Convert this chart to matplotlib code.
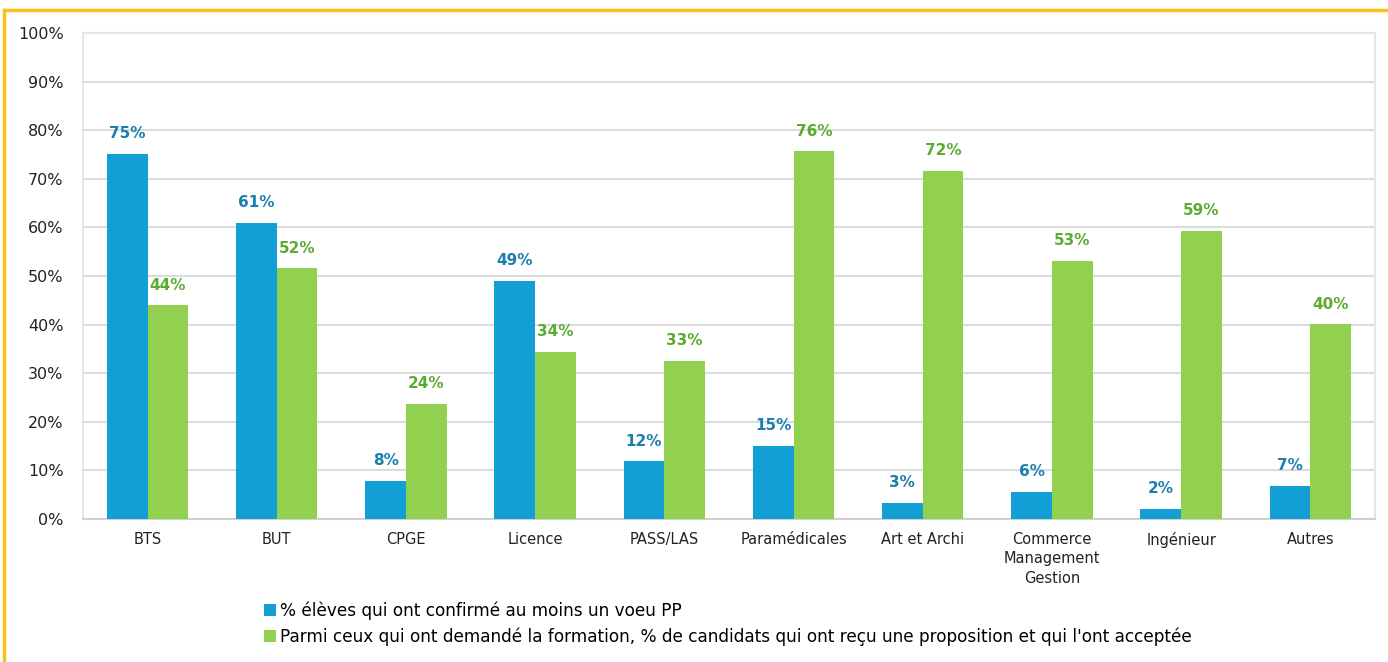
import matplotlib.pyplot as plt
import numpy as np

plt.rcParams['font.family'] = ['DejaVu Sans']

categories = ["BTS", "BUT", "CPGE", "Licence", "PASS/LAS", "Paramédicales",
              "Art et Archi", "Commerce\nManagement\nGestion", "Ingénieur", "Autres"]
confirmed = [75.1, 60.9, 7.8, 49.0, 11.9, 15.0, 3.3, 5.6, 2.1, 6.8]
accepted = [44.0, 51.6, 23.7, 34.4, 32.6, 75.7, 71.6, 53.1, 59.3, 40.1]
series_names = ["% élèves qui ont confirmé au moins un voeu PP",
                "Parmi ceux qui ont demandé la formation, % de candidats qui ont reçu une proposition et qui l'ont acceptée"]

blue = "#119fd6"
green = "#92d050"
blue_txt = "#1b7fae"
green_txt = "#5bab31"

fig = plt.figure(figsize=(13.88, 6.62), dpi=100)
ax = fig.add_axes([0.0598, 0.216, 0.9308, 0.734])

x = np.arange(len(categories))
w = 0.315
b1 = ax.bar(x - w / 2, confirmed, w, color=blue, label=series_names[0], zorder=3)
b2 = ax.bar(x + w / 2, accepted, w, color=green, label=series_names[1], zorder=3)

for rect, v in zip(b1, confirmed):
    ax.text(rect.get_x() + rect.get_width() / 2, v + 2.6, f"{v:.0f}%", ha="center", va="bottom",
            color=blue_txt, fontsize=11, fontweight="bold")
for rect, v in zip(b2, accepted):
    ax.text(rect.get_x() + rect.get_width() / 2, v + 2.6, f"{v:.0f}%", ha="center", va="bottom",
            color=green_txt, fontsize=11, fontweight="bold")

ax.set_xlim(-0.5, len(categories) - 0.5)
ax.set_ylim(0, 100)
ax.set_yticks(np.arange(0, 101, 10))
ax.set_yticklabels([f"{t}%" for t in range(0, 101, 10)], fontsize=11.5, color="#222222")
ax.set_xticks(x)
ax.set_xticklabels(categories, fontsize=10.5, color="#222222", linespacing=1.4)
ax.tick_params(axis="both", length=0)
ax.tick_params(axis="y", pad=14)
ax.tick_params(axis="x", pad=9)
ax.yaxis.grid(True, color="#dcdcdc", linewidth=1.5, zorder=0)
ax.set_axisbelow(True)
for side in ["left", "top", "right"]:
    ax.spines[side].set_color("#e6e6e6")
    ax.spines[side].set_linewidth(1.5)
ax.spines["bottom"].set_color("#d0d0d0")
ax.spines["bottom"].set_linewidth(1.5)

fig.legend(handles=[b1, b2], loc="upper left", bbox_to_anchor=(0.19, 0.091), frameon=False,
           fontsize=12.2, handlelength=0.7, handleheight=0.7, handletextpad=0.25,
           labelspacing=0.42, borderaxespad=0, borderpad=0)

# yellow frame
fig.add_artist(plt.Line2D([0.003, 1.0], [0.985, 0.985], transform=fig.transFigure, color="#f8c21c", linewidth=2.5))
fig.add_artist(plt.Line2D([0.003, 0.003], [0.0, 0.985], transform=fig.transFigure, color="#f8c21c", linewidth=2.5))

fig.savefig("out.png", dpi=100)
